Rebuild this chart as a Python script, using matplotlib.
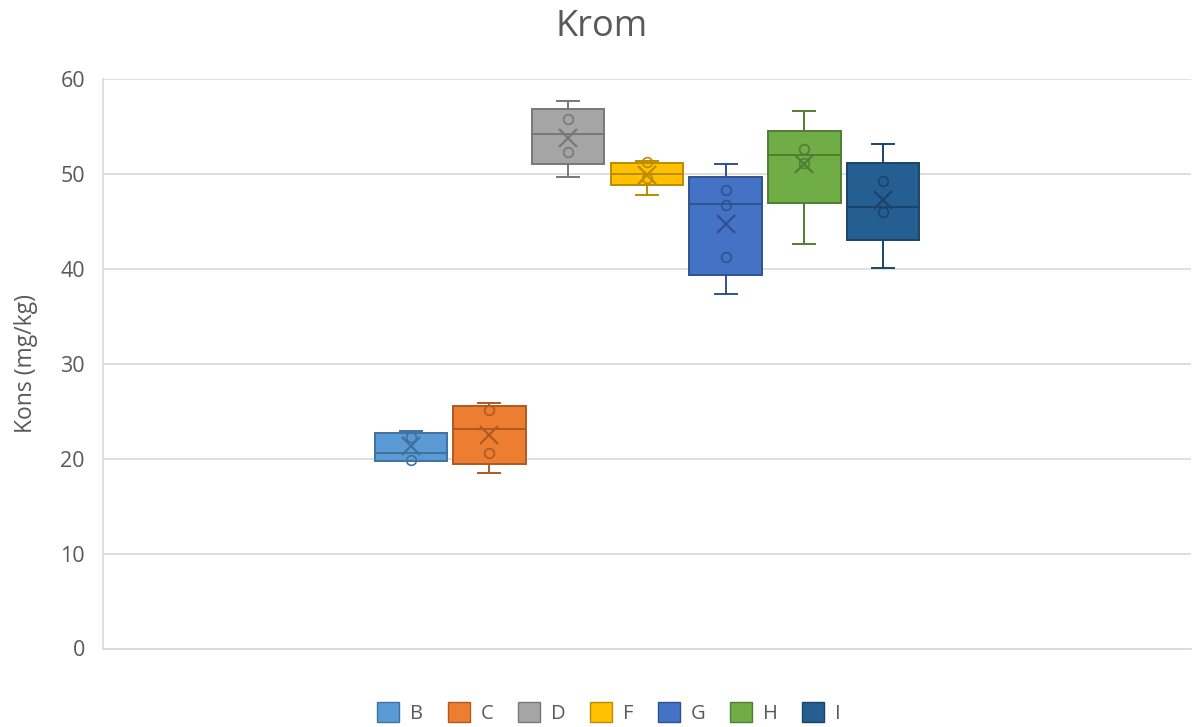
import matplotlib
matplotlib.use("Agg")
import matplotlib.pyplot as plt
from matplotlib.patches import Patch

series = ['B', 'C', 'D', 'F', 'G', 'H', 'I']
q1 = [19.8, 19.4, 51.0, 48.8, 39.3, 46.9, 43.0]
med = [20.6, 23.1, 54.2, 50.0, 46.8, 52.0, 46.5]
q3 = [22.7, 25.6, 56.8, 51.2, 49.7, 54.5, 51.2]
whislo = [19.8, 18.5, 49.7, 47.8, 37.3, 42.6, 40.1]
whishi = [22.9, 25.9, 57.7, 51.4, 51.0, 56.6, 53.1]
means = [21.3, 22.5, 53.8, 49.9, 44.7, 51.0, 47.2]
points = [[22.3, 19.9], [25.1, 20.6], [55.8, 52.3], [51.3, 49.6],
          [48.3, 46.7, 41.2], [52.6, 51.1], [49.3, 46.0]]
yticks = [0, 10, 20, 30, 40, 50, 60]

fills = ['#5B9BD5', '#ED7D31', '#A5A5A5', '#FFC000', '#4472C4', '#70AD47', '#255E91']
edges = ['#41719C', '#AE5A21', '#787878', '#BC8C00', '#2F528F', '#507E32', '#1A4468']

plt.rcParams['font.family'] = ['Open Sans', 'DejaVu Sans']
txt = '#595959'

fig = plt.figure(figsize=(11.92, 7.27), dpi=100)
ax = fig.add_axes([103/1192, 1-648.5/727, 1-103/1192-0.001, (648.5-79)/727])

stats = []
for i, s in enumerate(series):
    stats.append(dict(label=s, q1=q1[i], med=med[i], q3=q3[i],
                      whislo=whislo[i], whishi=whishi[i], mean=means[i], fliers=[]))

positions = list(range(len(series)))
bw = 0.92
for i in positions:
    ax.bxp([stats[i]], positions=[i], widths=bw, capwidths=0.28, patch_artist=True,
           showmeans=False, showfliers=False,
           boxprops=dict(facecolor=fills[i], edgecolor=edges[i], linewidth=1.4),
           medianprops=dict(color=edges[i], linewidth=1.4),
           whiskerprops=dict(color=edges[i], linewidth=1.4),
           capprops=dict(color=edges[i], linewidth=1.4), zorder=3)
    ax.plot([i]*len(points[i]), points[i], linestyle='none', marker='o', markersize=7,
            markerfacecolor='none', markeredgecolor=edges[i], markeredgewidth=1.2, zorder=4)
    ax.plot([i], [means[i]], linestyle='none', marker='x', markersize=13,
            markeredgecolor=edges[i], markeredgewidth=1.6, zorder=4)

ax.set_xlim(-3.91, 9.91)
ax.set_ylim(0, 60)
ax.set_yticks(yticks)
ax.set_xticks([])
ax.grid(axis='y', color='#D9D9D9', linewidth=1.2, zorder=0)
ax.set_axisbelow(True)
for sp in ['top', 'right']:
    ax.spines[sp].set_visible(False)
for sp in ['left', 'bottom']:
    ax.spines[sp].set_color('#D9D9D9')
    ax.spines[sp].set_linewidth(1.2)
ax.tick_params(axis='y', length=0, pad=13, labelsize=15.5, labelcolor=txt)
ax.set_ylabel('Kons (mg/kg)', fontsize=16.5, color=txt, labelpad=16)
fig.text(602/1192, 1-27/727, 'Krom', ha='center', va='center', fontsize=26, color=txt)

handles = [Patch(facecolor=fills[i], edgecolor=edges[i], linewidth=1.0, label=s)
           for i, s in enumerate(series)]
fig.legend(handles=handles, loc='center', bbox_to_anchor=(609/1192, 1-713/727), ncol=7,
           frameon=False, fontsize=14.5, labelcolor=txt, handlelength=1.1, handleheight=1.1,
           handletextpad=0.55, columnspacing=1.2)

fig.savefig('out.png', dpi=100)
